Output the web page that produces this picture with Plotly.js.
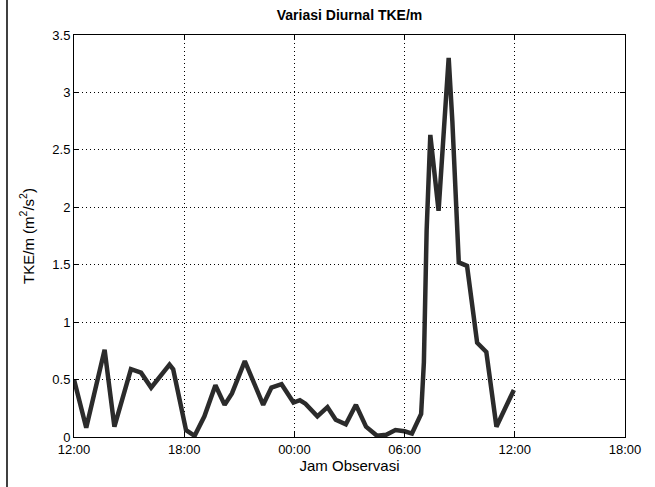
<!DOCTYPE html>
<html>
<head>
<meta charset="utf-8">
<script src="https://cdn.plot.ly/plotly-3.0.1.min.js"></script>
<style>html,body{margin:0;padding:0;background:#fff}#chart{width:655px;height:487px}</style>
</head>
<body>
<div id="chart"></div>
<script>
var times = [
 "2000-01-01 12:00","2000-01-01 12:40","2000-01-01 13:40","2000-01-01 14:12","2000-01-01 15:06",
 "2000-01-01 15:39","2000-01-01 16:12","2000-01-01 17:12","2000-01-01 17:24","2000-01-01 18:06",
 "2000-01-01 18:34","2000-01-01 19:06","2000-01-01 19:42","2000-01-01 20:12","2000-01-01 20:36",
 "2000-01-01 21:18","2000-01-01 22:18","2000-01-01 22:45","2000-01-01 23:18","2000-01-01 23:57",
 "2000-01-02 00:18","2000-01-02 00:36","2000-01-02 01:15","2000-01-02 01:48","2000-01-02 02:15",
 "2000-01-02 02:48","2000-01-02 03:21","2000-01-02 03:54","2000-01-02 04:30","2000-01-02 05:00",
 "2000-01-02 05:30","2000-01-02 06:00","2000-01-02 06:24","2000-01-02 06:54","2000-01-02 07:03",
 "2000-01-02 07:12","2000-01-02 07:24","2000-01-02 07:51","2000-01-02 08:09","2000-01-02 08:24",
 "2000-01-02 08:36","2000-01-02 08:57","2000-01-02 09:24","2000-01-02 09:57","2000-01-02 10:27",
 "2000-01-02 11:00","2000-01-02 11:57"
];
var tke = [
 0.50,0.08,0.76,0.09,0.59,
 0.56,0.43,0.63,0.59,0.06,
 0.01,0.18,0.45,0.28,0.38,
 0.66,0.28,0.43,0.46,0.30,
 0.32,0.29,0.18,0.26,0.15,
 0.11,0.28,0.09,0.01,0.02,
 0.06,0.05,0.03,0.20,0.65,
 1.80,2.63,1.97,2.70,3.30,
 2.75,1.52,1.49,0.82,0.74,
 0.09,0.41
];
var xTickVals = ["2000-01-01 12:00","2000-01-01 18:00","2000-01-02 00:00","2000-01-02 06:00","2000-01-02 12:00","2000-01-02 18:00"];
var xTickText = ["12:00","18:00","00:00","06:00","12:00","18:00"];
var yTickVals = [0,0.5,1,1.5,2,2.5,3,3.5];
var yTickText = ["0","0.5","1","1.5","2","2.5","3","3.5"];

var trace = {
  x: times, y: tke, type: 'scatter', mode: 'lines',
  line: {color: '#2b2b2b', width: 4.5},
  hoverinfo: 'skip'
};
var fam = 'Liberation Sans, Arial, sans-serif';
var axFont = {family: fam, size: 13, color: '#000'};
var layout = {
  width: 655, height: 487,
  margin: {l: 74, r: 30, t: 35, b: 50},
  paper_bgcolor: '#fff', plot_bgcolor: '#fff',
  showlegend: false,
  title: {text: '<b>Variasi Diurnal TKE/m</b>', x: 0.5, xref: 'paper', xanchor: 'center', y: 0.97, yanchor: 'middle',
          font: {family: fam, size: 14, color: '#000'}},
  xaxis: {
    type: 'date', range: ["2000-01-01 12:00", "2000-01-02 18:00"],
    tickmode: 'array', tickvals: xTickVals, ticktext: xTickText,
    showgrid: true, gridcolor: '#000', griddash: '1px,3px', gridwidth: 1,
    showline: true, linecolor: '#000', linewidth: 1, mirror: 'ticks',
    ticks: 'inside', ticklen: 5, tickcolor: '#000', zeroline: false,
    tickfont: axFont,
    title: {text: 'Jam Observasi', standoff: 3, font: {family: fam, size: 15, color: '#000'}}
  },
  yaxis: {
    range: [0, 3.5],
    tickmode: 'array', tickvals: yTickVals, ticktext: yTickText,
    showgrid: true, gridcolor: '#000', griddash: '1px,3px', gridwidth: 1,
    showline: true, linecolor: '#000', linewidth: 1, mirror: 'ticks',
    ticks: 'inside', ticklen: 5, tickcolor: '#000', zeroline: false,
    tickfont: axFont,
    title: {text: 'TKE/m (m<sup>2</sup>/s<sup>2</sup>)', standoff: 14, font: {family: fam, size: 15, color: '#000'}}
  },
  shapes: [
    {type: 'line', xref: 'paper', yref: 'paper', x0: -0.1216, x1: -0.1216, y0: -0.13, y1: 1.1,
     line: {color: '#000', width: 1.5}}
  ]
};
Plotly.newPlot('chart', [trace], layout, {displayModeBar: false, staticPlot: true});
</script>
</body>
</html>
